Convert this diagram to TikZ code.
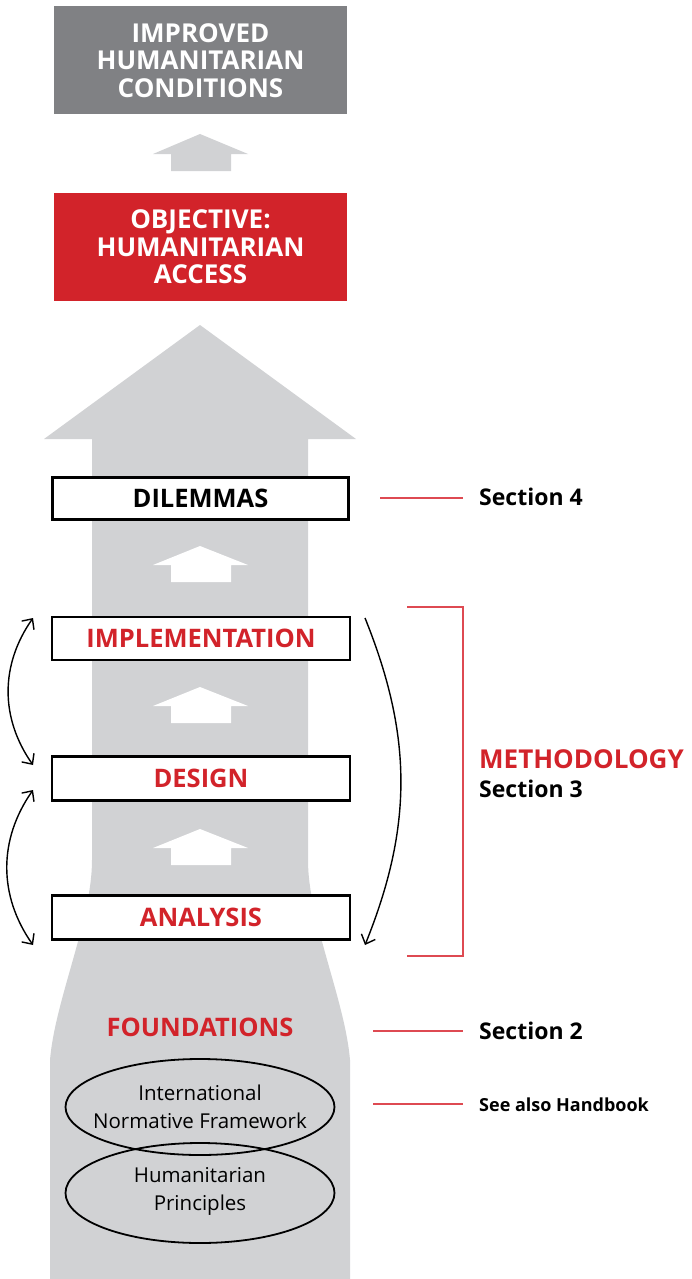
\documentclass[tikz,border=0pt]{standalone}
\usepackage{fontspec}
\setmainfont{Open Sans}
\usetikzlibrary{arrows.meta}

\definecolor{shaftgrey}{HTML}{D1D2D4}
\definecolor{topgrey}{HTML}{808184}
\definecolor{accessred}{HTML}{D2232A}
\definecolor{tickred}{HTML}{DE4A52}

\begin{document}
\begin{tikzpicture}
    [
      x=1pt,y=-1pt,
      headbox/.style={rectangle,minimum width=293pt,minimum height=108pt,inner sep=0pt,
        text=white,font=\bfseries\fontsize{26}{27.5}\selectfont,align=center},
      stagebox/.style={rectangle,draw=black,line width=2.4pt,fill=white,minimum width=298pt,
        minimum height=42pt,inner sep=0pt,font=\bfseries\fontsize{25.5}{27}\selectfont},
      basis/.style={inner sep=0pt,align=center,font=\fontsize{20.5}{28}\selectfont},
      ring/.style={draw=black,line width=1.8pt},
      side/.style={anchor=west,inner sep=0pt,font=\bfseries\fontsize{23}{25}\selectfont},
      tick/.style={draw=tickred,line width=1.1pt},
      loop/.style={draw=black,line width=1.4pt,-{Straight Barb[length=8pt,width=15pt]}},
      twoway/.style={draw=black,line width=1.4pt,{Straight Barb[length=8pt,width=15pt]}-{Straight Barb[length=8pt,width=15pt]}},
    ]

    % background
    \useasboundingbox (0,0) rectangle (691,1279);

    % big grey arrow
    \fill [shaftgrey] (200,325) -- (356,439) -- (308,439) -- (308,860)
      .. controls (308,920) and (345,1000) .. (350,1060) -- (350,1279)
      -- (50,1279) -- (50,1060) .. controls (55,1000) and (92,920) .. (92,860)
      -- (92,439) -- (44,439) -- cycle;

    % small arrows
    \fill [shaftgrey] (200,134) -- (248,154) -- (231,154) -- (231,171) -- (171,171) -- (171,154) -- (153,154) -- cycle;
    \foreach \y in {546,687,829} {
      \fill [white] (200,\y) -- (248,\y+19) -- (231,\y+19) -- (231,\y+36) -- (171,\y+36) -- (171,\y+19) -- (153,\y+19) -- cycle;
    }

    \node (conditions) [headbox,fill=topgrey] at (200.5,60.5) {IMPROVED\\HUMANITARIAN\\CONDITIONS};
    \node (access) [headbox,fill=accessred] at (200.5,247) {OBJECTIVE:\\HUMANITARIAN\\ACCESS};

    \node (dilemmas) [stagebox,minimum width=296pt] at (200.5,498.5) {DILEMMAS};
    \node (impl) [stagebox,minimum height=43pt,text=accessred] at (201,638.5) {IMPLEMENTATION};
    \node (design) [stagebox,minimum height=44pt,text=accessred] at (201,778.5) {DESIGN};
    \node (analysis) [stagebox,minimum height=44pt,text=accessred] at (201,917.5) {ANALYSIS};

    \node (foundations) [inner sep=0pt,text=accessred,font=\bfseries\fontsize{25.5}{27}\selectfont] at (200,1027) {FOUNDATIONS};
    \node (norms) [basis] at (200,1107) {International\\Normative Framework};
    \node (principles) [basis] at (200,1191) {Humanitarian\\Principles};
    \draw [ring] (norms.center) ellipse [x radius=134.5, y radius=48];
    \draw [ring] (200,1193) ellipse [x radius=134.5, y radius=50];

    % right hand labels
    \node (sec4) [side] at (479,497) {Section 4};
    \node (method) [side,text=accessred,font=\bfseries\fontsize{26}{28}\selectfont] at (479,759) {METHODOLOGY};
    \node (sec3) [side] at (479,789) {Section 3};
    \node (sec2) [side] at (479,1031) {Section 2};
    \node (handbook) [side,font=\bfseries\fontsize{18}{20}\selectfont] at (479,1105) {See also Handbook};

    \coordinate (sec4-tick) at (380,498);
    \coordinate (sec2-tick) at (373,1031);
    \coordinate (handbook-tick) at (373,1104);
    \coordinate (method-top) at (407,607);
    \coordinate (method-bot) at (407,956);

    \draw [tick] (sec4-tick) -- ([xshift=-16pt]sec4.west |- sec4-tick);
    \draw [tick] (sec2-tick) -- ([xshift=-16pt]sec2.west |- sec2-tick);
    \draw [tick] (handbook-tick) -- ([xshift=-16pt]handbook.west |- handbook-tick);
    \draw [tick] (method-top) -- (463,607) -- (463,956) -- (method-bot);

    % feedback arrows
    \coordinate (impl-l) at (33,618);
    \coordinate (design-l1) at (33,765);
    \coordinate (design-l2) at (33,790);
    \coordinate (analysis-l) at (33,945);
    \coordinate (impl-r) at (365,618);
    \coordinate (analysis-r) at (365,945);

    \path
    (impl-l) edge [twoway,bend right=35] (design-l1)
    (design-l2) edge [twoway,bend right=35] (analysis-l)
    (impl-r) edge [loop,bend left=22] (analysis-r)
    ;

  \end{tikzpicture}
\end{document}
